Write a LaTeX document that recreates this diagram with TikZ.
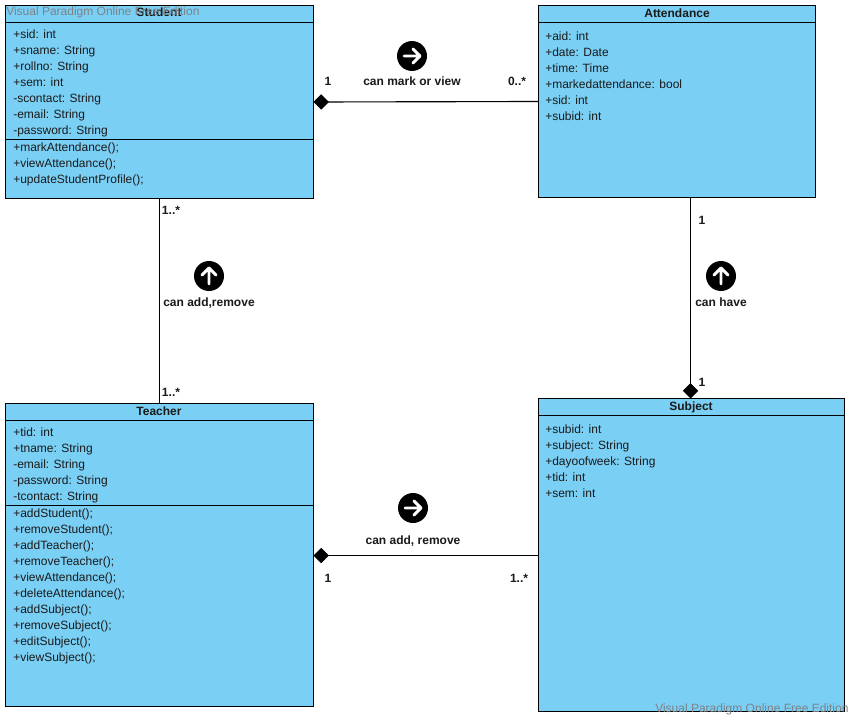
\documentclass[tikz,border=0pt]{standalone}
\usepackage{fontspec}
\setmainfont{Liberation Sans}
\usetikzlibrary{arrows.meta,positioning,calc}
\definecolor{classfill}{HTML}{7ACFF5}
\definecolor{ink}{HTML}{1A1A1A}
\definecolor{wm}{HTML}{7F8286}
\tikzset{
  x=0.75pt,y=-0.75pt,
  classbox/.style={draw=black,fill=classfill,line width=0.75pt,anchor=north west,inner sep=0pt,outer sep=0pt},
  classname/.style={font=\bfseries\fontsize{9}{12}\selectfont,text=ink,inner sep=0pt,anchor=base},
  members/.style={font=\fontsize{9}{12}\selectfont,text=ink,align=left,inner sep=0pt,anchor=north west},
  rule/.style={line width=0.75pt,draw=black},
  link/.style={line width=0.85pt,draw=black},
  comp/.style={link,{Diamond[length=11.5pt,width=11.5pt,fill=black]}-},
  tag/.style={font=\bfseries\fontsize{9}{12}\selectfont,text=ink,inner sep=0pt,anchor=base},
  watermark/.style={font=\fontsize{9}{12}\selectfont,text=wm,inner sep=0pt,anchor=base west},
  badge/.style={circle,fill=black,minimum size=22.5pt,inner sep=0pt},
  glyph/.style={draw=white,line width=2.2pt,line cap=round,line join=round},
}
\begin{document}
\begin{tikzpicture}
\useasboundingbox (0,0) rectangle (853,717);
\fill[white] (0,0) rectangle (853,717);

% classes
\node[classbox,minimum width=231pt,minimum height=144.75pt] (student) at (5.5,5.5) {};
\node[classbox,minimum width=207.75pt,minimum height=144pt] (attendance) at (538.5,5.5) {};
\node[classbox,minimum width=231pt,minimum height=227.25pt] (teacher) at (5.5,403.5) {};
\node[classbox,minimum width=229.5pt,minimum height=234.75pt] (subject) at (538.5,398.5) {};

% compartment rules
\draw[rule] (5.5,22.5) -- (313.5,22.5);
\draw[rule] (5.5,139.5) -- (313.5,139.5);
\draw[rule] (538.5,22.5) -- (815.5,22.5);
\draw[rule] (5.5,420.5) -- (313.5,420.5);
\draw[rule] (5.5,505.5) -- (313.5,505.5);
\draw[rule] (538.5,415.5) -- (844.5,415.5);

% class names
\node[classname] (studentname) at (159,17) {Student};
\node[classname] (attendancename) at (677,18) {Attendance};
\node[classname] (teachername) at (159,415) {Teacher};
\node[classname] (subjectname) at (691,410) {Subject};

% members
\node[members] (studentattrs) at (13,29.5) {+sid: int\\+sname: String\\+rollno: String\\+sem: int\\-scontact: String\\-email: String\\-password: String};
\node[members] (studentops) at (13,143) {+markAttendance();\\+viewAttendance();\\+updateStudentProfile();};
\node[members] (attendanceattrs) at (545,32) {+aid: int\\+date: Date\\+time: Time\\+markedattendance: bool\\+sid: int\\+subid: int};
\node[members] (teacherattrs) at (13,427.5) {+tid: int\\+tname: String\\-email: String\\-password: String\\-tcontact: String};
\node[members] (teacherops) at (13,509) {+addStudent();\\+removeStudent();\\+addTeacher();\\+removeTeacher();\\+viewAttendance();\\+deleteAttendance();\\+addSubject();\\+removeSubject();\\+editSubject();\\+viewSubject();};
\node[members] (subjectattrs) at (545,424.5) {+subid: int\\+subject: String\\+dayoofweek: String\\+tid: int\\+sem: int};

% connectors
\draw[comp] (student.east) -- (attendance.west);
\draw[link] (student.south) -- (teacher.north);
\draw[comp] ([xshift=-0.75pt]subject.north) -- ([xshift=-0.75pt]subject.north |- attendance.south);
\draw[comp] ([yshift=-0.375pt]teacher.east) -- ([yshift=-0.375pt]subject.west);

% multiplicities and association names
\node[tag] (m1) at (328,86) {1};
\node[tag] (m2) at (517,86) {0..*};
\node[tag] (t1) at (412,86) {can mark or view};
\node[tag] (m3) at (171,214) {1..*};
\node[tag] (m4) at (171,396) {1..*};
\node[tag] (t2) at (209,306) {can add,remove};
\node[tag] (m5) at (702,224) {1};
\node[tag] (m6) at (702,386) {1};
\node[tag] (t3) at (721,306) {can have};
\node[tag] (m7) at (328,582) {1};
\node[tag] (m8) at (519,582) {1..*};
\node[tag] (t4) at (413,544) {can add, remove};

% direction badges
\node[badge] (b1) at (412,56) {};
\draw[glyph] ($(b1)+(-8,0)$) -- ($(b1)+(8,0)$) ($(b1)+(1,-7)$) -- ($(b1)+(8,0)$) -- ($(b1)+(1,7)$);
\node[badge] (b2) at (209,276) {};
\draw[glyph] ($(b2)+(0,8)$) -- ($(b2)+(0,-8)$) ($(b2)+(-7,-1)$) -- ($(b2)+(0,-8)$) -- ($(b2)+(7,-1)$);
\node[badge] (b3) at (721,276) {};
\draw[glyph] ($(b3)+(0,8)$) -- ($(b3)+(0,-8)$) ($(b3)+(-7,-1)$) -- ($(b3)+(0,-8)$) -- ($(b3)+(7,-1)$);
\node[badge] (b4) at (413,508) {};
\draw[glyph] ($(b4)+(-8,0)$) -- ($(b4)+(8,0)$) ($(b4)+(1,-7)$) -- ($(b4)+(8,0)$) -- ($(b4)+(1,7)$);

% watermarks
\node[watermark] (wm1) at (6,16) {Visual Paradigm Online Free Edition};
\node[watermark] (wm2) at (655,712) {Visual Paradigm Online Free Edition};
\end{tikzpicture}
\end{document}
